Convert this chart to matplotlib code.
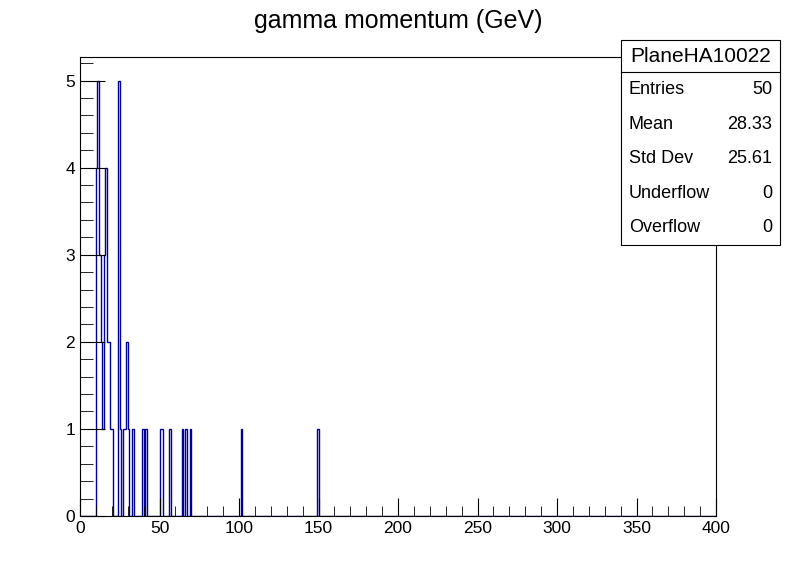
import matplotlib
matplotlib.use("Agg")
import matplotlib.pyplot as plt
import numpy as np
from matplotlib.ticker import MultipleLocator

plt.rcParams['font.family'] = ['Liberation Sans', 'DejaVu Sans']

bin_edges = np.arange(0, 401, 1)
filled_bins = [10, 11, 12, 13, 14, 15, 16, 17, 18, 19, 20, 24, 25, 27, 28, 29, 30, 33, 39, 41, 50, 51, 56, 64, 66, 69, 101, 149]
filled_counts = [4, 5, 3, 2, 1, 3, 4, 2, 2, 1, 1, 5, 1, 1, 1, 2, 1, 1, 1, 1, 1, 1, 1, 1, 1, 1, 1, 1]
counts = np.zeros(400)
for b, c in zip(filled_bins, filled_counts):
    counts[b] = c

stat_names = ["Entries", "Mean", "Std Dev", "Underflow", "Overflow"]
stat_values = ["50", "28.33", "25.61", "0", "0"]

fig = plt.figure(figsize=(7.96, 5.72), dpi=100)
ax = fig.add_axes([80/796, 1-516/572, 636/796, 459/572])
ax.stairs(counts, bin_edges, color='#000099', linewidth=1.0)
ax.set_xlim(0, 400)
ax.set_ylim(0, 5.27)
ax.xaxis.set_major_locator(MultipleLocator(50))
ax.xaxis.set_minor_locator(MultipleLocator(10))
ax.yaxis.set_major_locator(MultipleLocator(1))
ax.yaxis.set_minor_locator(MultipleLocator(0.2))
ax.tick_params(which='both', direction='in', top=False, right=False, labelsize=12.5)
ax.tick_params(which='major', length=13)
ax.tick_params(which='minor', length=7)
ax.tick_params(axis='y', which='major', length=18)
ax.tick_params(axis='y', which='minor', length=9)
for s in ax.spines.values():
    s.set_linewidth(0.8)

fig.text(0.5, 1-21/572, "gamma momentum (GeV)", ha='center', va='center', fontsize=18)

from matplotlib.patches import Rectangle
from matplotlib.lines import Line2D
bx0, bx1 = 621/796, 780/796
by_top, by_bot = 1-40/572, 1-245/572
fig.patches.append(Rectangle((bx0, by_bot), bx1-bx0, by_top-by_bot, transform=fig.transFigure,
                             facecolor='white', edgecolor='black', linewidth=0.8, zorder=5))
fig.lines.append(Line2D([bx0, bx1], [1-72/572]*2, transform=fig.transFigure, color='black', linewidth=0.8, zorder=6))
fig.text((bx0+bx1)/2, 1-57/572, "PlaneHA10022", ha='center', va='center', fontsize=15, zorder=7)
for i, (n, v) in enumerate(zip(stat_names, stat_values)):
    y = 1-(90+34.5*i)/572
    fig.text(629/796, y, n, ha='left', va='center', fontsize=13, zorder=7)
    fig.text(772/796, y, v, ha='right', va='center', fontsize=13, zorder=7)

fig.savefig("out.png", dpi=100)
